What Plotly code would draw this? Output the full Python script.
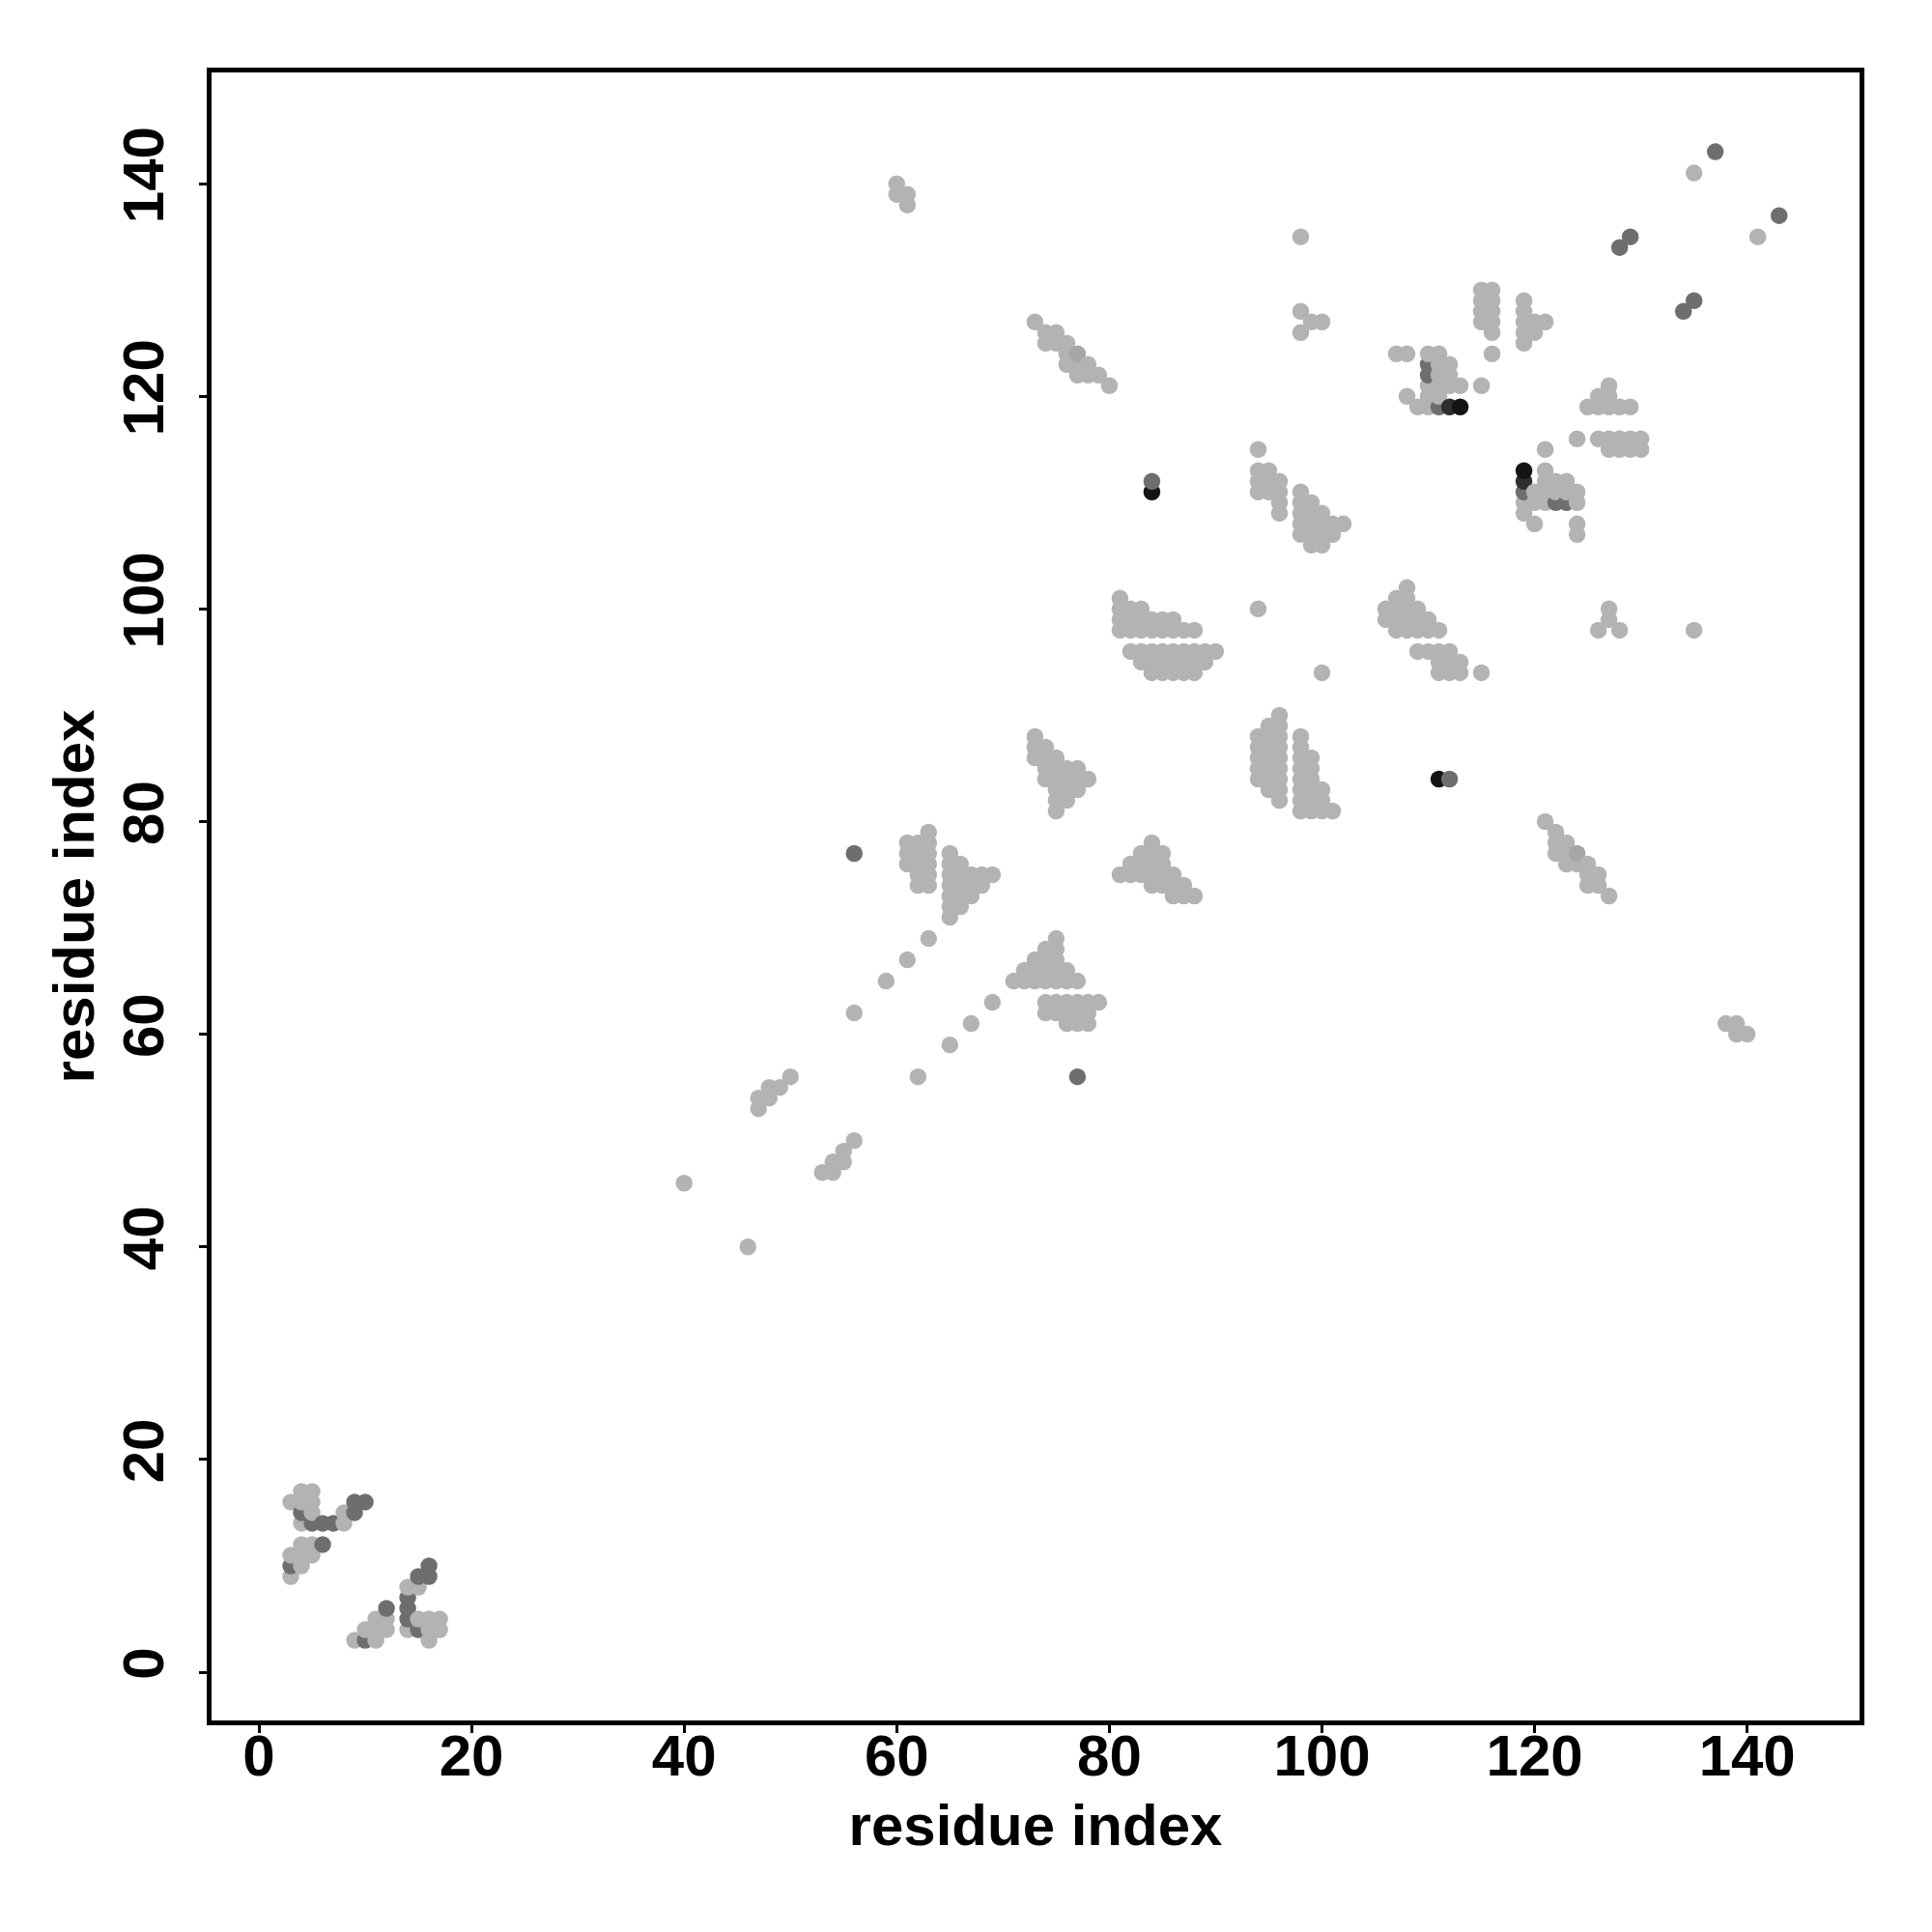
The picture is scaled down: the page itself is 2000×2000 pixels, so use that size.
import plotly.graph_objects as go

# Upper-triangle contacts (res_i < res_j); the map is symmetric.
res_i = [3, 3, 3, 3,
         4, 4, 4, 4, 4, 4, 4,
         5, 5, 5, 5, 5, 5,
         6, 6, 7, 8, 8, 9, 9, 10,
         40,
         47, 47, 48, 48, 49, 50,
         56, 56, 59, 60, 60,
         61, 61, 61, 61, 61, 61,
         62, 62, 62, 62, 62,
         63, 63, 63, 63, 63, 63, 63,
         65, 65, 65, 65, 65, 65, 65,
         66, 66, 66, 66, 66,
         67, 67, 67, 68, 68, 69,
         73, 73, 73, 73,
         74, 74, 74, 74, 74, 74,
         75, 75, 75, 75, 75, 75, 75, 75,
         76, 76, 76, 76, 76, 76, 76,
         77, 77, 77, 77, 77, 77,
         78, 78, 78, 79, 80,
         81, 81, 81, 81,
         82, 82, 82, 82,
         83, 83, 83, 83, 83,
         84, 84, 84, 84, 84, 84, 84,
         85, 85, 85, 85, 85,
         86, 86, 86, 86, 86,
         87, 87, 87, 87,
         88, 88, 88, 88,
         89, 89, 90,
         94, 94, 94, 94, 94,
         95, 95, 95,
         96, 96, 96, 96,
         98, 98, 98, 98, 98, 98, 98, 98,
         99, 99, 99, 99, 99, 99,
         100, 100, 100, 100, 100,
         101, 101, 102,
         107, 108, 108, 109,
         110, 110, 110, 110, 110, 110,
         111, 111, 111, 111, 111, 111,
         112, 112, 112, 112,
         113, 113,
         115, 115, 115, 115, 115,
         116, 116, 116, 116, 116, 116,
         119, 119, 119, 119, 119,
         120, 120, 121,
         128, 129, 135, 137]
res_j = [9, 10, 11, 16,
         10, 11, 12, 14, 15, 16, 17,
         11, 12, 14, 15, 16, 17,
         12, 14, 14, 14, 15, 15, 16, 16,
         46,
         53, 54, 54, 55, 55, 56,
         62, 77, 65, 139, 140,
         67, 76, 77, 78, 138, 139,
         74, 75, 76, 77, 78,
         69, 74, 75, 76, 77, 78, 79,
         71, 72, 73, 74, 75, 76, 77,
         72, 73, 74, 75, 76,
         73, 74, 75, 74, 75, 75,
         86, 87, 88, 127,
         84, 85, 86, 87, 125, 126,
         81, 82, 83, 84, 85, 86, 125, 126,
         82, 83, 84, 85, 123, 124, 125,
         83, 84, 85, 122, 123, 124,
         84, 122, 123, 122, 121,
         98, 99, 100, 101,
         96, 98, 99, 100,
         95, 96, 98, 99, 100,
         94, 95, 96, 98, 99, 111, 112,
         94, 95, 96, 98, 99,
         94, 95, 96, 98, 99,
         94, 95, 96, 98,
         94, 95, 96, 98,
         95, 96, 96,
         100, 111, 112, 113, 115,
         111, 112, 113,
         109, 110, 111, 112,
         107, 108, 109, 110, 111, 126, 128, 135,
         106, 107, 108, 109, 110, 127,
         106, 107, 108, 109, 127,
         107, 108, 108,
         124, 120, 124, 119,
         119, 120, 121, 122, 123, 124,
         119, 120, 121, 122, 123, 124,
         119, 121, 122, 123,
         119, 121,
         121, 127, 128, 129, 130,
         124, 126, 127, 128, 129, 130,
         125, 126, 127, 128, 129,
         126, 127, 127,
         134, 135, 141, 143]
shade = ['L', 'D', 'L', 'L',
         'L', 'L', 'L', 'L', 'D', 'L', 'L',
         'L', 'L', 'D', 'L', 'L', 'L',
         'D', 'D', 'D', 'L', 'L', 'D', 'D', 'D',
         'L',
         'L', 'L', 'L', 'L', 'L', 'L',
         'L', 'D', 'L', 'L', 'L',
         'L', 'L', 'L', 'L', 'L', 'L',
         'L', 'L', 'L', 'L', 'L',
         'L', 'L', 'L', 'L', 'L', 'L', 'L',
         'L', 'L', 'L', 'L', 'L', 'L', 'L',
         'L', 'L', 'L', 'L', 'L',
         'L', 'L', 'L', 'L', 'L', 'L',
         'L', 'L', 'L', 'L',
         'L', 'L', 'L', 'L', 'L', 'L',
         'L', 'L', 'L', 'L', 'L', 'L', 'L', 'L',
         'L', 'L', 'L', 'L', 'L', 'L', 'L',
         'L', 'L', 'L', 'L', 'L', 'M',
         'L', 'L', 'L', 'L', 'L',
         'L', 'L', 'L', 'L',
         'L', 'L', 'L', 'L',
         'L', 'L', 'L', 'L', 'L',
         'L', 'L', 'L', 'L', 'L', 'K', 'D',
         'L', 'L', 'L', 'L', 'L',
         'L', 'L', 'L', 'L', 'L',
         'L', 'L', 'L', 'L',
         'L', 'L', 'L', 'L',
         'L', 'L', 'L',
         'L', 'L', 'L', 'L', 'L',
         'L', 'L', 'L',
         'L', 'L', 'L', 'L',
         'L', 'L', 'L', 'L', 'L', 'L', 'L', 'L',
         'L', 'L', 'L', 'L', 'L', 'L',
         'L', 'L', 'L', 'L', 'L',
         'L', 'L', 'L',
         'L', 'L', 'L', 'L',
         'L', 'L', 'L', 'D', 'D', 'L',
         'D', 'L', 'L', 'L', 'L', 'L',
         'V', 'L', 'L', 'L',
         'K', 'L',
         'L', 'L', 'L', 'L', 'L',
         'L', 'L', 'L', 'L', 'L', 'L',
         'L', 'L', 'L', 'L', 'L',
         'L', 'L', 'L',
         'D', 'D', 'L', 'D']

shade_colors = {'L': '#b3b3b3', 'M': '#a6a6a6', 'D': '#6e6e6e',
                'V': '#2e2e2e', 'K': '#141414'}

tick_values = [0, 20, 40, 60, 80, 100, 120, 140]
tick_labels = ['0', '20', '40', '60', '80', '100', '120', '140']
axis_title = 'residue index'

# Both halves of the symmetric map, drawn in residue order
pts = []
for a, b, s in zip(res_i, res_j, shade):
    pts.append((a, b, s))
    pts.append((b, a, s))
pts.sort(key=lambda p: (p[0], p[1]))
xs = [p[0] for p in pts]
ys = [p[1] for p in pts]
cols = [shade_colors[p[2]] for p in pts]

FONT = 'Liberation Sans'
tfont = dict(family=FONT, size=60, color='black', weight='bold')

fig = go.Figure(go.Scatter(
    x=xs, y=ys, mode='markers',
    marker=dict(size=17.5, color=cols, line=dict(width=0)),
    showlegend=False, hoverinfo='skip'))

common = dict(showgrid=False, zeroline=False, showline=True, linewidth=5,
              linecolor='black', mirror=True, ticks='outside', ticklen=8,
              tickwidth=3, tickcolor='black', tickvals=tick_values,
              ticktext=tick_labels, tickfont=tfont)

fig.update_xaxes(range=[-4.453, 150.57], ticklabelstandoff=-28,
                 title=dict(text=axis_title, font=tfont, standoff=19),
                 **common)
fig.update_yaxes(range=[-4.543, 150.46], tickangle=-90, ticklabelstandoff=13,
                 title=dict(text=axis_title, font=tfont, standoff=0),
                 **common)

fig.update_layout(width=2000, height=2000,
                  margin=dict(l=211, r=83, t=67, b=227, autoexpand=False),
                  plot_bgcolor='white', paper_bgcolor='white')

fig.write_html('out.html')
